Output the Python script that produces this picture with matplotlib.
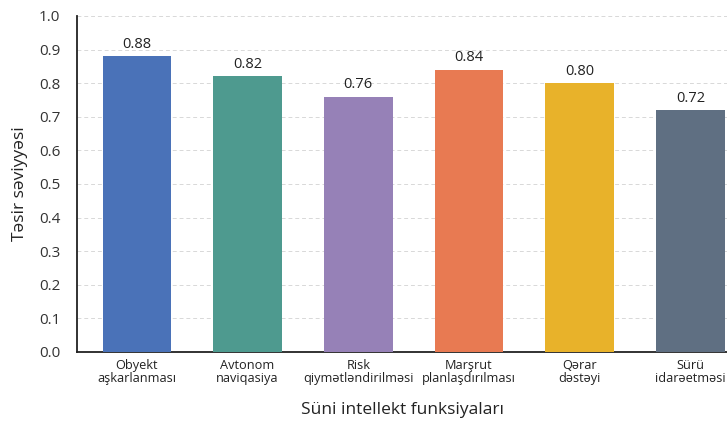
import matplotlib
matplotlib.use('Agg')
import matplotlib.pyplot as plt

CATEGORIES = ["Obyekt\naşkarlanması", "Avtonom\nnaviqasiya", "Risk\nqiymətləndirilməsi",
              "Marşrut\nplanlaşdırılması", "Qərar\ndəstəyi", "Sürü\nidarəetməsi"]
VALUES = [0.88, 0.82, 0.76, 0.84, 0.80, 0.72]
COLORS = ["#4a72b8", "#4e9a8f", "#9681b7", "#e87a52", "#e8b22a", "#5f6f82"]
Y_TICKS = [0.0, 0.1, 0.2, 0.3, 0.4, 0.5, 0.6, 0.7, 0.8, 0.9, 1.0]

plt.rcParams['font.family'] = ['Open Sans', 'DejaVu Sans']

fig = plt.figure(figsize=(7.27, 4.21), dpi=100)
ax = fig.add_axes([0.106, 0.164, 0.894, 0.798])

x = range(len(CATEGORIES))
ax.bar(x, VALUES, width=0.62, color=COLORS, zorder=3)
for xi, v in zip(x, VALUES):
	ax.text(xi, v + 0.013, f"{v:.2f}", ha='center', va='bottom', fontsize=10.5, color='#222222')

ax.set_xlim(-0.54, 5.33)
ax.set_ylim(0, 1.0)
ax.set_yticks(Y_TICKS)
ax.set_yticklabels([f"{t:.1f}" for t in Y_TICKS], fontsize=11, color='#333333')
ax.set_xticks(list(x))
ax.set_xticklabels(CATEGORIES, fontsize=9.2, color='#222222', linespacing=1.05)
ax.tick_params(axis='both', length=0)
ax.tick_params(axis='y', pad=12)
ax.tick_params(axis='x', pad=5)

ax.yaxis.grid(True, linestyle=(0, (4, 3)), color='#d8d8d8', linewidth=0.7, zorder=0)
ax.spines['top'].set_visible(False)
ax.spines['right'].set_visible(False)
ax.spines['left'].set_color('#222222')
ax.spines['bottom'].set_color('#222222')
ax.spines['left'].set_linewidth(1.3)
ax.spines['bottom'].set_linewidth(1.3)

ax.set_ylabel("Təsir səviyyəsi", fontsize=12.5, color='#222222', labelpad=8)
ax.set_xlabel("Süni intellekt funksiyaları", fontsize=12.5, color='#222222', labelpad=12)

fig.savefig("out.png", dpi=100)
